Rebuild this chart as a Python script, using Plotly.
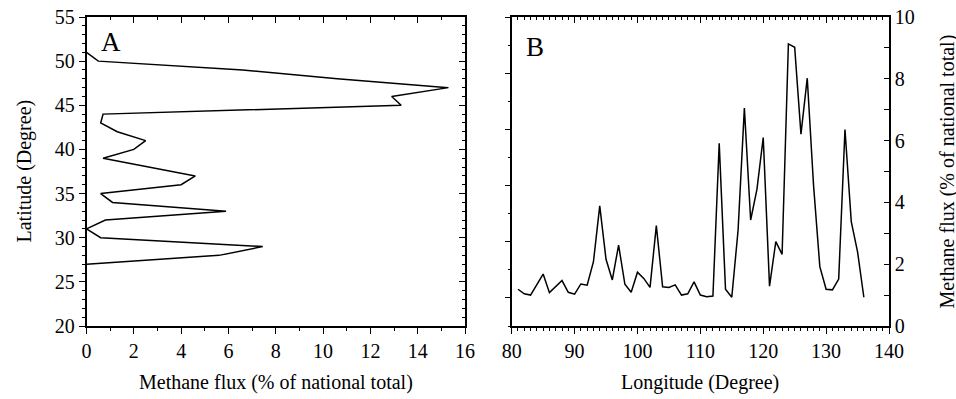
import plotly.graph_objects as go

# Panel A: methane flux by latitude
lat = [51, 50, 49, 48, 47, 46, 45, 44, 43, 42, 41, 40, 39, 38, 37, 36, 35, 34, 33, 32, 31, 30, 29, 28, 27]
flux_lat = [0, 0.5, 6.6, 10.6, 15.3, 12.9, 13.3, 0.7, 0.6, 1.3, 2.5, 2.0, 0.7, 2.6, 4.6, 4.0, 0.6, 1.1, 5.9, 0.8, 0, 0.6, 7.45, 5.6, 0]

# Panel B: methane flux by longitude
lon = list(range(81, 137))
flux_lon = [1.19, 1.04, 1.0, 1.34, 1.68, 1.08, 1.27, 1.47, 1.09, 1.03,
            1.36, 1.32, 2.08, 3.89, 2.16, 1.49, 2.62, 1.35, 1.09, 1.74,
            1.54, 1.25, 3.25, 1.27, 1.25, 1.33, 1.0, 1.04, 1.43, 1.0,
            0.95, 0.97, 5.91, 1.19, 0.93, 3.1, 7.05, 3.43, 4.42, 6.1,
            1.29, 2.73, 2.32, 9.13, 9.02, 6.21, 8.02, 4.56, 1.92, 1.19,
            1.17, 1.52, 6.36, 3.38, 2.4, 0.93]

W, H = 956, 399
FONT = "Liberation Serif, Times New Roman, serif"

def px(x):
    return x / W

def py(y):
    return 1 - y / H

dom_y = [py(326), py(17)]
dom_a = [px(86.5), px(465)]
dom_b = [px(511.7), px(889)]

fig = go.Figure()
line = dict(color="black", width=1.5)
fig.add_trace(go.Scatter(x=flux_lat, y=lat, mode="lines", line=line, xaxis="x", yaxis="y", showlegend=False, hoverinfo="skip"))
fig.add_trace(go.Scatter(x=lon, y=flux_lon, mode="lines", line=line, xaxis="x2", yaxis="y2", showlegend=False, hoverinfo="skip"))
# empty traces to activate overlay axes
fig.add_trace(go.Scatter(x=[None], y=[None], xaxis="x3", yaxis="y3", showlegend=False))
fig.add_trace(go.Scatter(x=[None], y=[None], xaxis="x4", yaxis="y4", showlegend=False))

base = dict(showline=True, linecolor="black", linewidth=1.5, showgrid=False, zeroline=False,
            tickcolor="black", tickwidth=1.2, ticklen=6, automargin=False, ticklabeloverflow="allow",
            tickfont=dict(family=FONT, size=20, color="black"))

def minor(d, ticks, length=3, tick0=None):
    m = dict(dtick=d, ticks=ticks, ticklen=length, tickcolor="black", tickwidth=1, showgrid=False)
    if tick0 is not None:
        m["tick0"] = tick0
    return m

layout = dict(
    width=W, height=H, margin=dict(l=0, r=0, t=0, b=0, pad=0, autoexpand=False),
    paper_bgcolor="white", plot_bgcolor="white",
    font=dict(family=FONT, size=20, color="black"),
    xaxis=dict(base, domain=dom_a, range=[0, 16], anchor="y", side="bottom", ticks="outside",
               tick0=0, dtick=2, minor=minor(1, "outside")),
    yaxis=dict(base, domain=dom_y, range=[20, 55], anchor="x", side="left", ticks="outside",
               tick0=20, dtick=5, minor=minor(1, "outside")),
    xaxis3=dict(base, overlaying="x", range=[0, 16], anchor="y", side="top", ticks="inside",
                showticklabels=False, tick0=0, dtick=2, minor=minor(1, "inside")),
    yaxis3=dict(base, overlaying="y", range=[20, 55], anchor="x", side="right", ticks="inside",
                showticklabels=False, tick0=20, dtick=5, minor=minor(1, "inside")),
    xaxis2=dict(base, domain=dom_b, range=[80, 140], anchor="y2", side="bottom", ticks="outside",
                tick0=80, dtick=10, minor=minor(1, "outside")),
    yaxis2=dict(base, domain=dom_y, range=[0, 10], anchor="x2", side="right", ticks="inside",
                tick0=0, dtick=2, ticklen=5, minor=minor(1, "inside", 5)),
    xaxis4=dict(base, overlaying="x2", range=[80, 140], anchor="y2", side="top", ticks="inside",
                showticklabels=False, tick0=80, dtick=10, minor=minor(1, "inside")),
    yaxis4=dict(base, overlaying="y2", range=[0, 11], anchor="x2", side="left", ticks="outside",
                showticklabels=False, tick0=1, dtick=2, ticklen=5, minor=minor(1, "outside", 2)),
)
fig.update_layout(**layout)

ann = [
    dict(text="A", x=px(99), y=py(42), xanchor="left", yanchor="middle", font=dict(size=27)),
    dict(text="B", x=px(524), y=py(47), xanchor="left", yanchor="middle", font=dict(size=27)),
    dict(text="Latitude (Degree)", x=px(24), y=py(171.5), textangle=-90, xanchor="center", yanchor="middle"),
    dict(text="Methane flux (% of national total)", x=px(276), y=py(382), xanchor="center", yanchor="middle"),
    dict(text="Longitude (Degree)", x=px(700), y=py(382), xanchor="center", yanchor="middle"),
    dict(text="Methane flux (% of national total)", x=px(947), y=py(171.5), textangle=-90, xanchor="center", yanchor="middle"),
]
for a in ann:
    a.update(xref="paper", yref="paper", showarrow=False)
    a.setdefault("font", {})
    a["font"] = dict(family=FONT, size=a["font"].get("size", 20), color="black")
fig.update_layout(annotations=ann)

fig.write_html("out.html", config={"displayModeBar": False},
               post_script="document.body.style.margin='0';document.body.style.overflow='hidden';")
